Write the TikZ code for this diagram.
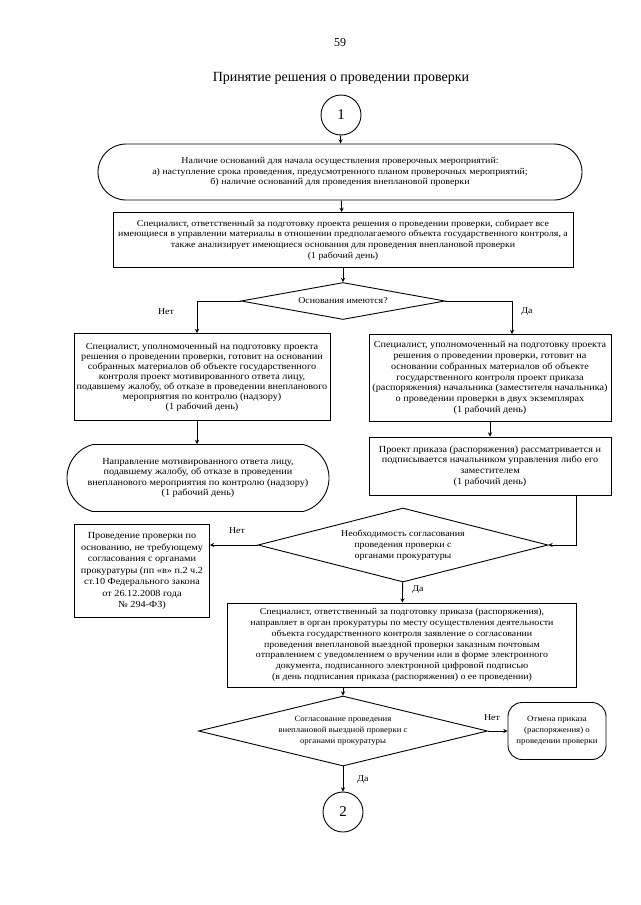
\documentclass[tikz,border=0pt]{standalone}
\usepackage{fontspec}
\setmainfont{Liberation Serif}
\newfontfamily\boxfont{Liberation Serif}[FakeStretch=1.1]
\usetikzlibrary{shapes.geometric,shapes.misc,positioning}

\begin{document}
\begin{tikzpicture}[x=1pt,y=-1pt,>=stealth,line width=0.9pt,
  every node/.style={align=center,font=\boxfont\fontsize{9}{10.8}\selectfont},
  box node/.style={draw,rectangle,inner sep=1pt},
  oval node/.style={draw,rounded rectangle,rounded rectangle arc length=150,inner sep=1pt},
  cond node/.style={draw,diamond,inner sep=0pt},
  num node/.style={draw,circle,minimum size=40pt,inner sep=0pt,font=\fontsize{15}{17}\selectfont},
  lbl/.style={font=\boxfont\fontsize{9}{10}\selectfont}]
    \useasboundingbox (0,0) rectangle (640,905);

    \node (pg) at (340,43) {\rmfamily\fontsize{12}{14}\selectfont 59};
    \node (title) at (341,78) {\rmfamily\fontsize{14}{16}\selectfont Принятие решения о проведении проверки};
    \node[num node] (1) at (341,115) {1};

    \node[oval node,rounded rectangle arc length=180,minimum width=486,minimum height=56] (2) at (340,172)
        {Наличие оснований для начала осуществления проверочных мероприятий:\\
         а) наступление срока проведения, предусмотренного планом проверочных мероприятий;\\
         б) наличие оснований для проведения внеплановой проверки};
    \node[box node,minimum width=460,minimum height=55] (3) at (343,240)
        {Специалист, ответственный за подготовку проекта решения о проведении проверки, собирает все\\
         имеющиеся в управлении материалы в отношении предполагаемого объекта государственного контроля, а\\
         также анализирует имеющиеся основания для проведения внеплановой проверки\\
         (1 рабочий день)};
    \node[cond node,aspect=5.5,minimum width=204,minimum height=37] (4) at (343,301) {Основания имеются?};

    \node[box node,minimum width=256,minimum height=87,font=\boxfont\fontsize{9.3}{10}\selectfont] (5) at (202,377)
        {Специалист, уполномоченный на подготовку проекта\\
         решения о проведении проверки, готовит на основании\\
         собранных материалов об объекте государственного\\
         контроля проект мотивированного ответа лицу,\\
         подавшему жалобу, об отказе в проведении внепланового\\
         мероприятия по контролю (надзору)\\
         (1 рабочий день)};
    \node[oval node,minimum width=264,minimum height=67,font=\boxfont\fontsize{9.3}{10.5}\selectfont] (6) at (198,478)
        {Направление мотивированного ответа лицу,\\
         подавшему жалобу, об отказе в проведении\\
         внепланового мероприятия по контролю (надзору)\\
         (1 рабочий день)};

    \node[box node,minimum width=242,minimum height=87,font=\boxfont\fontsize{9.3}{10.8}\selectfont] (7) at (490,378)
        {Специалист, уполномоченный на подготовку проекта\\
         решения о проведении проверки, готовит на\\
         основании собранных материалов об объекте\\
         государственного контроля проект приказа\\
         (распоряжения) начальника (заместителя начальника)\\
         о проведении проверки в двух экземплярах\\
         (1 рабочий день)};
    \node[box node,minimum width=242,minimum height=58,font=\boxfont\fontsize{9.3}{10.8}\selectfont] (8) at (490,466)
        {Проект приказа (распоряжения) рассматривается и\\
         подписывается начальником управления либо его\\
         заместителем\\
         (1 рабочий день)};

    \node[cond node,aspect=3.9,minimum width=290,minimum height=74] (9) at (403,545)
        {Необходимость согласования\\ проведения проверки с\\ органами прокуратуры};
    \node[box node,minimum width=135,minimum height=93,font=\boxfont\fontsize{9.3}{11.5}\selectfont] (10) at (142,571)
        {Проведение проверки по\\
         основанию, не требующему\\
         согласования с органами\\
         прокуратуры (пп «в» п.2 ч.2\\
         ст.10 Федерального закона\\
         от 26.12.2008 года\\
         № 294-ФЗ)};
    \node[box node,minimum width=349,minimum height=84] (11) at (402,645)
        {Специалист, ответственный за подготовку приказа (распоряжения),\\
         направляет в орган прокуратуры по месту осуществления деятельности\\
         объекта государственного контроля заявление о согласовании\\
         проведения внеплановой выездной проверки заказным почтовым\\
         отправлением с уведомлением о вручении или в форме электронного\\
         документа, подписанного электронной цифровой подписью\\
         (в день подписания приказа (распоряжения) о ее проведении)};

    \node[cond node,aspect=4.1,minimum width=289,minimum height=70,font=\boxfont\fontsize{8}{11}\selectfont] (12) at (343,731)
        {Согласование проведения\\ внеплановой выездной проверки с\\ органами прокуратуры};
    \node[draw,rectangle,rounded corners=14pt,minimum width=98,minimum height=57,inner sep=1pt,
          font=\boxfont\fontsize{8}{11}\selectfont] (13) at (557,731)
        {Отмена приказа\\ (распоряжения) о\\ проведении проверки};
    \node[num node] (14) at (343,812) {2};

    % connectors
    \path[->]
        (1) edge (2)
        (2) edge (3)
        (3) edge (4)
        (7) edge (8)
        (9) edge (11)
        (12) edge (13)
        (12) edge (14)
        ;
    \draw[->] (4.west) -| ([xshift=-5pt]5.north);
    \draw[->] (4.east) -| ([xshift=22pt]7.north);
    \draw[->] ([xshift=-5pt]5.south) -- ([xshift=-5pt]5.south |- 6.north);
    \draw[->] ([xshift=-35pt]8.south east) |- (9.east);
    \draw[->] (9.west) -- (9.west -| 10.east);
    \draw[->] (12.north |- 11.south) -- (12.north);

    % labels
    \node[lbl] (n1) at (166,312) {Нет};
    \node[lbl] (y1) at (527,312) {Да};
    \node[lbl] (n2) at (237,531) {Нет};
    \node[lbl] (y2) at (418,590) {Да};
    \node[lbl] (n3) at (492,718) {Нет};
    \node[lbl] (y3) at (363,780) {Да};
\end{tikzpicture}
\end{document}
